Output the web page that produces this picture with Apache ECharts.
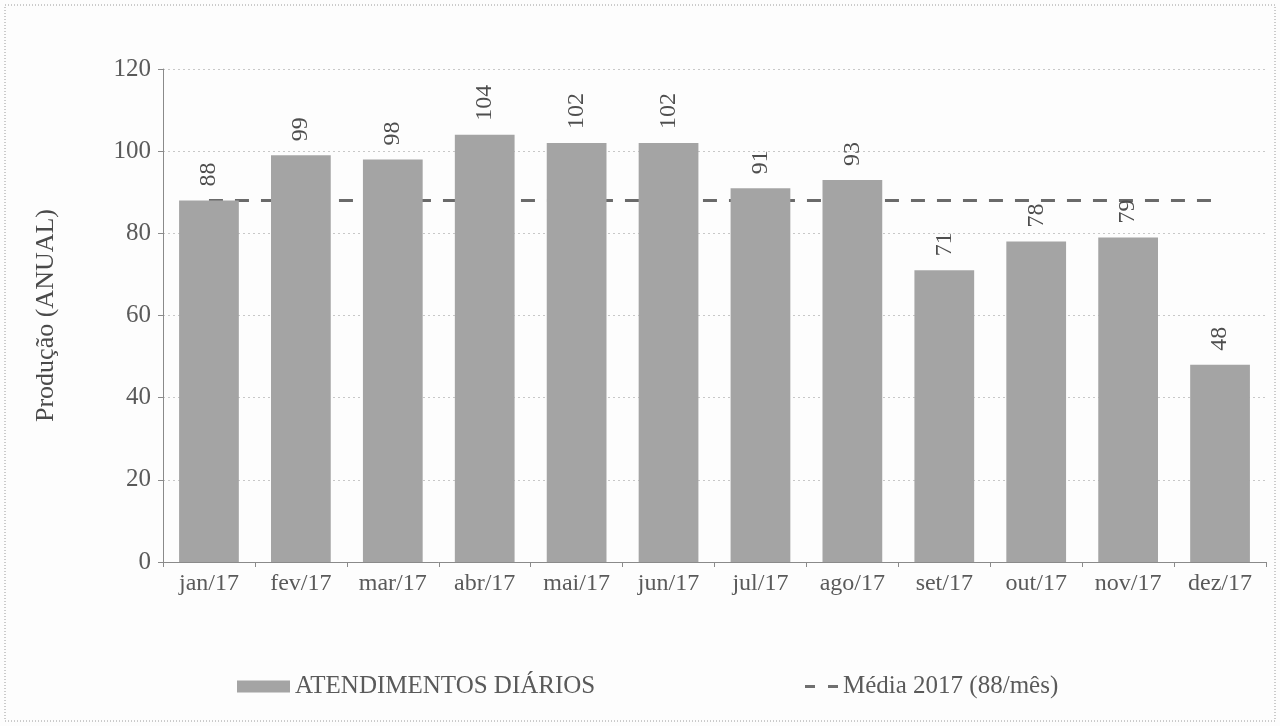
<!DOCTYPE html>
<html>
<head>
<meta charset="utf-8">
<script src="https://cdn.jsdelivr.net/npm/echarts@6/dist/echarts.min.js"></script>
<style>
  html, body { margin: 0; padding: 0; background: #fdfdfd; }
  #chart-wrapper { width: 1280px; height: 726px; }
</style>
</head>
<body>
<div id="chart-wrapper"></div>
<script>
const months = ['jan/17', 'fev/17', 'mar/17', 'abr/17', 'mai/17', 'jun/17', 'jul/17', 'ago/17', 'set/17', 'out/17', 'nov/17', 'dez/17']
const atendimentos = [88, 99, 98, 104, 102, 102, 91, 93, 71, 78, 79, 48]
const media = [88, 88, 88, 88, 88, 88, 88, 88, 88, 88, 88, 88]

const font = 'Liberation Serif'
const textColor = '#5a5a5a'

const chartDom = document.getElementById('chart-wrapper')
const chart = echarts.init(chartDom)

const option = {
  backgroundColor: '#fdfdfd',
  animation: false,
  graphic: [
    {
      type: 'rect',
      shape: { x: 5, y: 5, width: 1270, height: 716 },
      style: { fill: 'none', stroke: '#9a9a9a', lineWidth: 1, lineDash: [1, 2] },
      silent: true
    }
  ],
  grid: {
    left: 163,
    right: 14,
    top: 69,
    bottom: 164
  },
  legend: [
    {
      left: 232,
      top: 669,
      itemWidth: 53,
      itemHeight: 12,
      textStyle: { fontFamily: font, fontSize: 25, color: textColor },
      data: [{ name: 'ATENDIMENTOS DIÁRIOS', icon: 'rect' }]
    },
    {
      left: 800,
      top: 669,
      itemWidth: 33,
      itemHeight: 3,
      textStyle: { fontFamily: font, fontSize: 25, color: textColor },
      data: [{
        name: 'Média 2017 (88/mês)',
        icon: 'path://M0,0H10V3H0Z M23,0H33V3H23Z',
        itemStyle: { color: '#707070' }
      }]
    }
  ],
  xAxis: {
    type: 'category',
    data: months,
    axisLine: { lineStyle: { color: '#8a8a8a', width: 1 } },
    axisTick: { show: true, length: 5, lineStyle: { color: '#8a8a8a' } },
    axisLabel: { interval: 0, fontFamily: font, fontSize: 24, color: textColor, margin: 10 }
  },
  yAxis: {
    type: 'value',
    min: 0,
    max: 120,
    interval: 20,
    name: 'Produção (ANUAL)',
    nameLocation: 'middle',
    nameGap: 104,
    nameTextStyle: { fontFamily: font, fontSize: 26, color: '#4a4a4a' },
    axisLine: { show: true, lineStyle: { color: '#8a8a8a', width: 1 } },
    axisTick: { show: true, length: 5, lineStyle: { color: '#8a8a8a' } },
    axisLabel: { fontFamily: font, fontSize: 25, color: textColor, margin: 12 },
    splitLine: { lineStyle: { color: '#c8c8c8', type: [2, 3] } }
  },
  series: [
    {
      name: 'Média 2017 (88/mês)',
      type: 'line',
      data: media,
      symbol: 'none',
      z: 1,
      lineStyle: { color: '#6a6a6a', width: 3, type: [14, 12] },
      itemStyle: { color: '#6a6a6a' }
    },
    {
      name: 'ATENDIMENTOS DIÁRIOS',
      type: 'bar',
      data: atendimentos,
      barWidth: '65%',
      z: 3,
      itemStyle: { color: '#a4a4a4' },
      label: {
        show: true,
        position: 'top',
        rotate: 90,
        align: 'left',
        verticalAlign: 'middle',
        distance: 14,
        fontFamily: font,
        fontSize: 24,
        color: '#4e4e4e'
      }
    }
  ]
}
chart.setOption(option)
</script>
</body>
</html>
